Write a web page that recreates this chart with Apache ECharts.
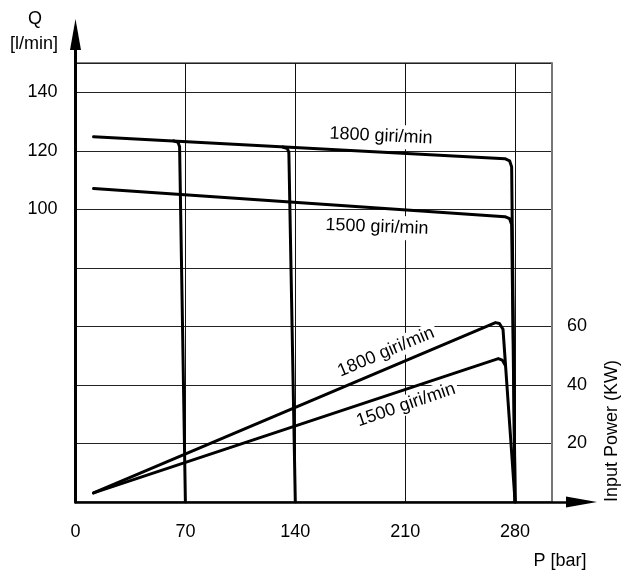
<!DOCTYPE html>
<html>
<head>
<meta charset="utf-8">
<script src="https://cdn.jsdelivr.net/npm/echarts@6/dist/echarts.min.js"></script>
<style>
html,body{margin:0;padding:0;background:#fff;}
#chart{width:622px;height:571px;}
</style>
</head>
<body>
<div id="chart"></div>
<script>
// ---- data (P in bar, Q in l/min, power in kW) ----
const xTickLabels = [0, 70, 140, 210, 280];
const leftTickLabels = [100, 120, 140];
const rightTickLabels = [20, 40, 60];

const flow1800 = [[11.5,124.8],[273.5,117.3],[276.5,116.6],[277.8,114.5],[280,0]];
const flow1500 = [[11.5,107.1],[273.5,97.5],[276.5,96.8],[277.8,94.8],[280,0]];
const relief70 = [[62.5,123.4],[65.3,122.9],[66.3,121.4],[70,0]];
const relief140 = [[132,121.3],[134.9,120.8],[135.9,119.4],[140,0]];
const power1800 = [[11.5,3.1],[267.5,61.3],[270,61.0],[272.3,59.0],[280,0]];
const power1500 = [[11.5,3.1],[269.3,49.0],[271.8,48.5],[273.9,46.6]];

const FONT = "'Liberation Sans', Arial, sans-serif";
const FS = 18;
const chart = echarts.init(document.getElementById('chart'), null, {renderer: 'canvas'});

const curveStyle = {color: '#000', width: 3, cap: 'round', join: 'round'};
function curve(name, data, yAxisIndex) {
  return {
    name: name, type: 'line', data: data, xAxisIndex: 0, yAxisIndex: yAxisIndex,
    symbol: 'none', lineStyle: curveStyle, z: 3, silent: true, animation: false
  };
}
function txt(s, x, y, rot, z, bg, pad) {
  const o = {type: 'text', x: x, y: y, rotation: rot || 0, z: z,
    style: {text: s, font: FS + 'px ' + FONT, fill: '#000', textAlign: 'center', textVerticalAlign: 'middle'}};
  if (bg) { o.style.backgroundColor = '#fff'; o.style.padding = pad; }
  return o;
}

chart.setOption({
  animation: false,
  backgroundColor: '#fff',
  grid: [
    {left: 75.5, right: 70, top: 63, bottom: 69, show: true, borderColor: '#000', borderWidth: 1, backgroundColor: 'transparent'},
    {left: 75.5, right: 40.5, top: 34.5, bottom: 69}
  ],
  xAxis: [
    {
      type: 'value', gridIndex: 0, min: 0, max: 303.5, interval: 70,
      axisLine: {show: false}, axisTick: {show: false},
      axisLabel: {
        margin: 21, color: '#000', fontSize: FS, fontFamily: FONT,
        formatter: v => xTickLabels.indexOf(v) >= 0 ? String(v) : ''
      },
      splitLine: {show: true, lineStyle: {color: '#111', width: 1}}
    },
    {
      type: 'value', gridIndex: 1, min: 0, max: 1,
      axisLine: {show: true, symbol: ['none', 'triangle'], symbolSize: [11, 31], lineStyle: {color: '#000', width: 2.5}},
      axisTick: {show: false}, axisLabel: {show: false}, splitLine: {show: false}
    }
  ],
  yAxis: [
    {
      type: 'value', gridIndex: 0, min: 0, max: 150, interval: 20,
      axisLine: {show: false}, axisTick: {show: false},
      axisLabel: {
        margin: 18, color: '#000', fontSize: FS, fontFamily: FONT,
        formatter: v => leftTickLabels.indexOf(v) >= 0 ? String(v) : ''
      },
      splitLine: {show: true, lineStyle: {color: '#222', width: 1}}
    },
    {
      type: 'value', gridIndex: 0, position: 'right', min: 0, max: 150, interval: 20,
      axisLine: {show: true, lineStyle: {color: '#777', width: 2}}, axisTick: {show: false},
      axisLabel: {
        margin: 15, color: '#000', fontSize: FS, fontFamily: FONT,
        formatter: v => rightTickLabels.indexOf(v) >= 0 ? String(v) : ''
      },
      splitLine: {show: false}
    },
    {
      type: 'value', gridIndex: 1, min: 0, max: 1,
      axisLine: {show: true, symbol: ['none', 'triangle'], symbolSize: [11, 31], lineStyle: {color: '#000', width: 3}},
      axisTick: {show: false}, axisLabel: {show: false}, splitLine: {show: false}
    }
  ],
  series: [
    curve('Q 1800 giri/min', flow1800, 0),
    curve('Q 1500 giri/min', flow1500, 0),
    curve('relief 70', relief70, 0),
    curve('relief 140', relief140, 0),
    curve('Power 1800 giri/min', power1800, 1),
    curve('Power 1500 giri/min', power1500, 1)
  ],
  graphic: [
    txt('Q', 35, 19, 0, 10),
    txt('[l/min]', 34, 44, 0, 10),
    txt('P [bar]', 560, 561, 0, 10),
    txt('Input Power (KW)', 612, 431, Math.PI / 2, 10),
    txt('1800 giri/min', 381, 136, -0.05, 1, true, [3, 3]),
    txt('1500 giri/min', 377, 227, -0.04, 1, true, [3, 3]),
    txt('1800 giri/min', 386, 352, 0.40, 1, true, [1, 3]),
    txt('1500 giri/min', 406, 405, 0.33, 1, true, [1, 3])
  ]
});
</script>
</body>
</html>
